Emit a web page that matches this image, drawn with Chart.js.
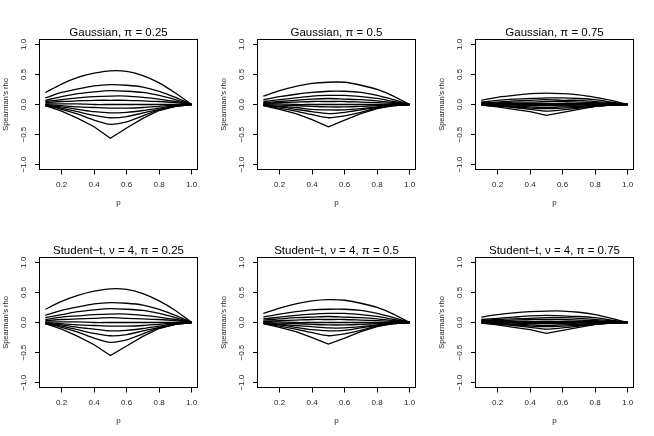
<!DOCTYPE html>
<html>
<head>
<meta charset="utf-8">
<script src="https://cdn.jsdelivr.net/npm/chart.js@4.4.0/dist/chart.umd.min.js"></script>
<style>
body { margin: 0; background: #fff; width: 654px; height: 436px; position: relative; overflow: hidden; }
canvas { position: absolute; }
</style>
</head>
<body>
<canvas id="panel0" width="218" height="218" style="left:0px;top:0px"></canvas>
<canvas id="panel1" width="218" height="218" style="left:218px;top:0px"></canvas>
<canvas id="panel2" width="218" height="218" style="left:436px;top:0px"></canvas>
<canvas id="panel3" width="218" height="218" style="left:0px;top:218px"></canvas>
<canvas id="panel4" width="218" height="218" style="left:218px;top:218px"></canvas>
<canvas id="panel5" width="218" height="218" style="left:436px;top:218px"></canvas>
<script>
// x grid (p) and axis ticks
var pValues = [0.1, 0.2, 0.3, 0.4, 0.5, 0.6, 0.7, 0.8, 0.9, 1.0];
var xTicks = [0.2, 0.4, 0.6, 0.8, 1.0];
var yTicks = [-1.0, -0.5, 0.0, 0.5, 1.0];

// Spearman's rho curves, top line first
var gauss25 = [
    [0.20, 0.34, 0.45, 0.52, 0.56, 0.55, 0.48, 0.36, 0.19, 0.00],
    [0.11, 0.20, 0.26, 0.31, 0.33, 0.32, 0.29, 0.22, 0.12, 0.00],
    [0.07, 0.13, 0.18, 0.21, 0.23, 0.22, 0.20, 0.15, 0.08, 0.00],
    [0.05, 0.08, 0.11, 0.13, 0.14, 0.14, 0.12, 0.09, 0.05, 0.00],
    [0.03, 0.05, 0.06, 0.07, 0.07, 0.07, 0.06, 0.05, 0.03, 0.00],
    [0.01, 0.01, 0.01, 0.00, 0.00, 0.00, 0.00, 0.00, 0.00, 0.00],
    [0.00, -0.02, -0.04, -0.05, -0.06, -0.06, -0.05, -0.03, -0.01, 0.00],
    [-0.01, -0.04, -0.08, -0.12, -0.14, -0.13, -0.10, -0.06, -0.02, 0.00],
    [-0.02, -0.06, -0.12, -0.18, -0.22, -0.20, -0.14, -0.08, -0.03, 0.00],
    [-0.02, -0.08, -0.16, -0.26, -0.33, -0.29, -0.19, -0.09, -0.03, 0.00],
    [-0.02, -0.11, -0.23, -0.37, -0.56, -0.39, -0.23, -0.10, -0.03, 0.00]
];
var gauss50 = [
    [0.14, 0.23, 0.30, 0.35, 0.37, 0.37, 0.32, 0.25, 0.14, 0.00],
    [0.08, 0.13, 0.17, 0.20, 0.22, 0.22, 0.20, 0.15, 0.08, 0.00],
    [0.05, 0.08, 0.11, 0.14, 0.15, 0.15, 0.13, 0.10, 0.05, 0.00],
    [0.03, 0.05, 0.07, 0.09, 0.10, 0.09, 0.08, 0.06, 0.03, 0.00],
    [0.02, 0.03, 0.04, 0.05, 0.05, 0.05, 0.04, 0.03, 0.02, 0.00],
    [0.01, 0.01, 0.00, 0.00, 0.00, 0.00, 0.00, 0.00, 0.00, 0.00],
    [0.00, -0.01, -0.02, -0.03, -0.04, -0.04, -0.03, -0.02, -0.01, 0.00],
    [-0.01, -0.03, -0.05, -0.08, -0.09, -0.09, -0.07, -0.04, -0.01, 0.00],
    [-0.01, -0.04, -0.08, -0.12, -0.15, -0.13, -0.09, -0.05, -0.02, 0.00],
    [-0.02, -0.06, -0.11, -0.17, -0.22, -0.19, -0.13, -0.06, -0.02, 0.00],
    [-0.02, -0.08, -0.15, -0.25, -0.37, -0.26, -0.15, -0.07, -0.02, 0.00]
];
var gauss75 = [
    [0.07, 0.12, 0.15, 0.18, 0.19, 0.18, 0.16, 0.12, 0.07, 0.00],
    [0.04, 0.07, 0.09, 0.10, 0.11, 0.11, 0.10, 0.08, 0.04, 0.00],
    [0.03, 0.04, 0.06, 0.07, 0.08, 0.07, 0.07, 0.05, 0.03, 0.00],
    [0.02, 0.03, 0.04, 0.04, 0.05, 0.05, 0.04, 0.03, 0.02, 0.00],
    [0.01, 0.02, 0.02, 0.02, 0.02, 0.02, 0.02, 0.02, 0.01, 0.00],
    [0.01, 0.00, 0.00, 0.00, 0.00, 0.00, 0.00, 0.00, 0.00, 0.00],
    [0.00, -0.01, -0.01, -0.02, -0.02, -0.02, -0.01, -0.01, 0.00, 0.00],
    [0.00, -0.01, -0.03, -0.04, -0.05, -0.04, -0.03, -0.02, -0.01, 0.00],
    [-0.01, -0.02, -0.04, -0.06, -0.07, -0.06, -0.05, -0.03, -0.01, 0.00],
    [-0.01, -0.03, -0.05, -0.08, -0.11, -0.09, -0.06, -0.03, -0.01, 0.00],
    [-0.01, -0.04, -0.08, -0.12, -0.18, -0.13, -0.08, -0.03, -0.01, 0.00]
];
var student25 = [
    [0.22, 0.35, 0.45, 0.52, 0.56, 0.55, 0.48, 0.36, 0.20, 0.00],
    [0.12, 0.20, 0.26, 0.31, 0.33, 0.32, 0.29, 0.22, 0.12, 0.00],
    [0.08, 0.13, 0.18, 0.21, 0.23, 0.22, 0.20, 0.15, 0.08, 0.00],
    [0.05, 0.09, 0.11, 0.13, 0.14, 0.14, 0.12, 0.09, 0.05, 0.00],
    [0.03, 0.05, 0.06, 0.07, 0.08, 0.07, 0.06, 0.05, 0.03, 0.00],
    [0.01, 0.01, 0.01, 0.00, 0.00, 0.00, 0.00, 0.00, 0.00, 0.00],
    [0.00, -0.02, -0.04, -0.05, -0.06, -0.06, -0.05, -0.03, -0.01, 0.00],
    [-0.01, -0.04, -0.08, -0.11, -0.14, -0.13, -0.10, -0.06, -0.02, 0.00],
    [-0.02, -0.06, -0.12, -0.18, -0.22, -0.20, -0.14, -0.08, -0.03, 0.00],
    [-0.02, -0.08, -0.16, -0.26, -0.33, -0.29, -0.19, -0.09, -0.03, 0.00],
    [-0.02, -0.11, -0.23, -0.37, -0.55, -0.39, -0.23, -0.10, -0.03, 0.00]
];
var student50 = [
    [0.15, 0.24, 0.31, 0.36, 0.38, 0.37, 0.32, 0.25, 0.14, 0.00],
    [0.09, 0.14, 0.18, 0.21, 0.22, 0.22, 0.20, 0.15, 0.08, 0.00],
    [0.06, 0.09, 0.12, 0.14, 0.15, 0.15, 0.13, 0.10, 0.05, 0.00],
    [0.04, 0.06, 0.08, 0.09, 0.10, 0.09, 0.08, 0.06, 0.03, 0.00],
    [0.02, 0.03, 0.04, 0.05, 0.05, 0.05, 0.04, 0.03, 0.02, 0.00],
    [0.01, 0.01, 0.00, 0.00, 0.00, 0.00, 0.00, 0.00, 0.00, 0.00],
    [0.00, -0.01, -0.02, -0.03, -0.04, -0.04, -0.03, -0.02, -0.01, 0.00],
    [-0.01, -0.03, -0.05, -0.07, -0.09, -0.09, -0.07, -0.04, -0.01, 0.00],
    [-0.01, -0.04, -0.08, -0.12, -0.14, -0.13, -0.09, -0.05, -0.02, 0.00],
    [-0.02, -0.06, -0.11, -0.17, -0.22, -0.19, -0.13, -0.06, -0.02, 0.00],
    [-0.02, -0.08, -0.15, -0.25, -0.36, -0.26, -0.15, -0.07, -0.02, 0.00]
];
var student75 = [
    [0.09, 0.13, 0.16, 0.18, 0.19, 0.19, 0.17, 0.13, 0.07, 0.00],
    [0.05, 0.07, 0.09, 0.11, 0.12, 0.11, 0.10, 0.08, 0.04, 0.00],
    [0.04, 0.05, 0.06, 0.07, 0.08, 0.08, 0.07, 0.05, 0.03, 0.00],
    [0.03, 0.03, 0.04, 0.05, 0.05, 0.05, 0.04, 0.03, 0.02, 0.00],
    [0.02, 0.02, 0.02, 0.02, 0.02, 0.02, 0.02, 0.02, 0.01, 0.00],
    [0.01, 0.01, 0.00, 0.00, 0.00, 0.00, 0.00, 0.00, 0.00, 0.00],
    [0.01, 0.00, -0.01, -0.02, -0.02, -0.02, -0.01, -0.01, 0.00, 0.00],
    [0.00, -0.01, -0.03, -0.04, -0.05, -0.04, -0.03, -0.02, -0.01, 0.00],
    [0.00, -0.02, -0.04, -0.06, -0.07, -0.06, -0.05, -0.03, -0.01, 0.00],
    [-0.01, -0.03, -0.05, -0.08, -0.11, -0.09, -0.06, -0.03, -0.01, 0.00],
    [-0.01, -0.04, -0.08, -0.12, -0.18, -0.13, -0.08, -0.03, -0.01, 0.00]
];

var panelTitles = [
    "Gaussian, \u03C0 = 0.25",
    "Gaussian, \u03C0 = 0.5",
    "Gaussian, \u03C0 = 0.75",
    "Student\u2212t, \u03BD = 4, \u03C0 = 0.25",
    "Student\u2212t, \u03BD = 4, \u03C0 = 0.5",
    "Student\u2212t, \u03BD = 4, \u03C0 = 0.75"
];
var panelSeries = [gauss25, gauss50, gauss75, student25, student50, student75];

var FONT = "Liberation Sans, Arial, sans-serif";

// R style box round the plot region
var boxPlugin = {
    id: 'box',
    afterDraw: function(chart) {
        var a = chart.chartArea;
        var ctx = chart.ctx;
        ctx.save();
        ctx.strokeStyle = '#000';
        ctx.lineWidth = 1;
        ctx.strokeRect(a.left, a.top, a.right - a.left, a.bottom - a.top);
        ctx.restore();
    }
};

function fmt(v) {
    return Number(v).toFixed(1).replace('-', '\u2212');
}

function makePanel(index) {
    var series = panelSeries[index];
    var datasets = [];
    for (var k = 0; k < series.length; k++) {
        var pts = [];
        for (var i = 0; i < pValues.length; i++) {
            pts.push({x: pValues[i], y: series[k][i]});
        }
        datasets.push({
            data: pts,
            borderColor: '#000',
            borderWidth: 1.3,
            pointRadius: 0,
            fill: false,
            // bottom line has a sharp corner at p = 0.5
            tension: k == series.length - 1 ? 0 : 0.25
        });
    }

    new Chart(document.getElementById('panel' + index), {
        type: 'line',
        data: {datasets: datasets},
        plugins: [boxPlugin],
        options: {
            responsive: false,
            animation: false,
            devicePixelRatio: 1,
            events: [],
            layout: {padding: {left: 0, right: 20.5, top: 0, bottom: 0}},
            plugins: {
                legend: {display: false},
                tooltip: {enabled: false},
                title: {
                    display: true,
                    text: panelTitles[index],
                    fullSize: false,
                    color: '#000',
                    font: {size: 11.5, family: FONT, weight: 'normal'},
                    padding: {top: 25.5, bottom: 0.2}
                }
            },
            scales: {
                x: {
                    type: 'linear',
                    min: 0.064,
                    max: 1.036,
                    afterBuildTicks: function(s) {
                        s.ticks = xTicks.map(function(v) { return {value: v}; });
                    },
                    afterFit: function(s) { s.height = 48.5; },
                    border: {display: false},
                    grid: {display: true, drawOnChartArea: false, drawTicks: true, tickLength: 5, color: '#000', lineWidth: 1},
                    ticks: {
                        padding: 5.5, color: '#222', autoSkip: false, maxRotation: 0,
                        font: {size: 8, family: FONT},
                        callback: function(v) { return fmt(v); }
                    },
                    title: {display: true, text: 'p', color: '#222', font: {size: 8, family: FONT}, padding: {top: 10.5, bottom: 10.5}}
                },
                y: {
                    type: 'linear',
                    min: -1.08,
                    max: 1.08,
                    afterBuildTicks: function(s) {
                        s.ticks = yTicks.map(function(v) { return {value: v}; });
                    },
                    afterFit: function(s) { s.width = 39.5; },
                    border: {display: false},
                    grid: {display: true, drawOnChartArea: false, drawTicks: true, tickLength: 4.5, color: '#000', lineWidth: 1},
                    ticks: {
                        padding: 3.5, color: '#222', autoSkip: false, minRotation: 90, maxRotation: 90, crossAlign: 'center',
                        font: {size: 8, family: FONT},
                        callback: function(v) { return fmt(v); }
                    },
                    title: {display: true, text: "Spearman's rho", color: '#222', font: {size: 7.5, family: FONT}, padding: {top: 1.5, bottom: 1.5}}
                }
            }
        }
    });
}

for (var n = 0; n < 6; n++) {
    makePanel(n);
}
</script>
</body>
</html>
